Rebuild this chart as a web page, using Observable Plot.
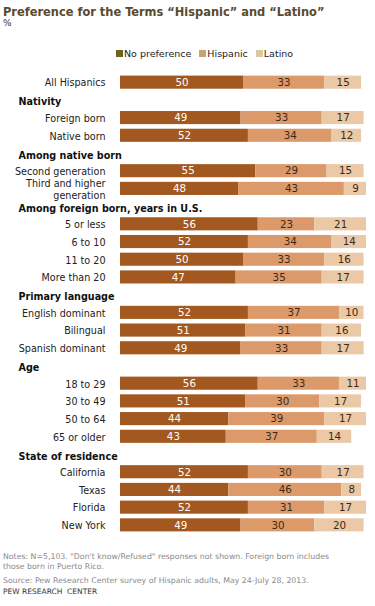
<!DOCTYPE html>
<html>
<head>
<meta charset="utf-8">
<script src="https://cdn.jsdelivr.net/npm/d3@7"></script>
<script src="https://cdn.jsdelivr.net/npm/@observablehq/plot@0.6"></script>
<style>
  body { margin: 0; background: #fff; font-family: "DejaVu Sans", Verdana, sans-serif; }
  #wrap { position: relative; width: 375px; height: 606px; overflow: hidden; }
  #title { position: absolute; left: 3px; top: 4px; font-weight: bold; font-size: 12.7px; font-stretch: condensed; font-family: "DejaVu Sans Condensed", "DejaVu Sans", sans-serif; color: #5b4a2c; white-space: nowrap; }
  #pct { position: absolute; left: 3px; top: 18px; font-size: 9px; color: #333; }
  #legend { position: absolute; left: 116px; top: 48px; font-size: 9.5px; color: #222; white-space: nowrap; }
  #legend span.sw { display: inline-block; width: 7px; height: 7px; margin-right: 1px; vertical-align: 0px; }
  #legend span.it { margin-right: 8px; }
  #chart { position: absolute; left: 0; top: 64px; }
  #notes { position: absolute; left: 3px; top: 552px; font-size: 7.8px; color: #8a8a8a; line-height: 9.5px; width: 345px; }
  #source { position: absolute; left: 3px; top: 576px; font-size: 7.8px; color: #8a8a8a; white-space: nowrap; }
  #pew { position: absolute; left: 3px; top: 587px; font-size: 7.5px; color: #333; white-space: nowrap; }
</style>
</head>
<body>
<div id="wrap">
  <div id="title">Preference for the Terms “Hispanic” and “Latino”</div>
  <div id="pct">%</div>
  <div id="legend"></div>
  <div id="chart"></div>
  <div id="notes">Notes: N=5,103. "Don't know/Refused" responses not shown. Foreign born includes those born in Puerto Rico.</div>
  <div id="source">Source: Pew Research Center survey of Hispanic adults, May 24-July 28, 2013.</div>
  <div id="pew">PEW RESEARCH&nbsp; CENTER</div>
</div>
<script>
const series = ["No preference", "Hispanic", "Latino"];
const barColors = ["#a3581f", "#dc9a6b", "#ebc8a6"];
const legendColors = ["#6e6322", "#c8a46a", "#d9c9a2"];

// rows: headings start with "#"
const rows = [
  "All Hispanics",
  "#Nativity",
  "Foreign born",
  "Native born",
  "#Among native born",
  "Second generation",
  "Third and higher\ngeneration",
  "#Among foreign born, years in U.S.",
  "5 or less",
  "6 to 10",
  "11 to 20",
  "More than 20",
  "#Primary language",
  "English dominant",
  "Bilingual",
  "Spanish dominant",
  "#Age",
  "18 to 29",
  "30 to 49",
  "50 to 64",
  "65 or older",
  "#State of residence",
  "California",
  "Texas",
  "Florida",
  "New York"
];

const noPreference = {
  "All Hispanics": 50, "Foreign born": 49, "Native born": 52,
  "Second generation": 55, "Third and higher\ngeneration": 48,
  "5 or less": 56, "6 to 10": 52, "11 to 20": 50, "More than 20": 47,
  "English dominant": 52, "Bilingual": 51, "Spanish dominant": 49,
  "18 to 29": 56, "30 to 49": 51, "50 to 64": 44, "65 or older": 43,
  "California": 52, "Texas": 44, "Florida": 52, "New York": 49
};
const hispanic = {
  "All Hispanics": 33, "Foreign born": 33, "Native born": 34,
  "Second generation": 29, "Third and higher\ngeneration": 43,
  "5 or less": 23, "6 to 10": 34, "11 to 20": 33, "More than 20": 35,
  "English dominant": 37, "Bilingual": 31, "Spanish dominant": 33,
  "18 to 29": 33, "30 to 49": 30, "50 to 64": 39, "65 or older": 37,
  "California": 30, "Texas": 46, "Florida": 31, "New York": 30
};
const latino = {
  "All Hispanics": 15, "Foreign born": 17, "Native born": 12,
  "Second generation": 15, "Third and higher\ngeneration": 9,
  "5 or less": 21, "6 to 10": 14, "11 to 20": 16, "More than 20": 17,
  "English dominant": 10, "Bilingual": 16, "Spanish dominant": 17,
  "18 to 29": 11, "30 to 49": 17, "50 to 64": 17, "65 or older": 14,
  "California": 17, "Texas": 8, "Florida": 17, "New York": 20
};

// legend
const leg = document.getElementById("legend");
series.forEach((s, i) => {
  const it = document.createElement("span");
  it.className = "it";
  it.innerHTML = `<span class="sw" style="background:${legendColors[i]}"></span>${s}`;
  leg.appendChild(it);
});

const dataRows = rows.filter(r => !r.startsWith("#"));
const headings = rows.filter(r => r.startsWith("#"));
const sources = [noPreference, hispanic, latino];
const long = [];
dataRows.forEach(r => series.forEach((s, i) => long.push({row: r, series: s, value: sources[i][r]})));

const chart = Plot.plot({
  width: 375,
  height: 480,
  marginLeft: 120,
  marginRight: 9,
  marginTop: 7,
  marginBottom: 8,
  x: {domain: [0, 100], axis: null},
  y: {domain: rows, axis: null, padding: 0.26, round: false},
  color: {domain: series, range: barColors},
  style: {fontFamily: "DejaVu Sans, Verdana, sans-serif"},
  marks: [
    Plot.barX(long, Plot.stackX({x: "value", y: "row", fill: "series", order: series})),
    Plot.text(long, Plot.stackX({x: "value", y: "row", z: "series", order: series,
      text: d => d.series === "No preference" ? d.value : "", fill: "white", fontSize: 10.3})),
    Plot.text(long, Plot.stackX({x: "value", y: "row", z: "series", order: series,
      text: d => d.series !== "No preference" ? d.value : "", fill: "#3b2a18", fontSize: 10.3})),
    Plot.text(dataRows, {y: d => d, text: d => d, frameAnchor: "left", textAnchor: "end",
      dx: -15, fontSize: 9.6, fill: "#222", lineHeight: 1.25}),
    Plot.text(headings, {y: d => d, text: d => d.slice(1), frameAnchor: "left", textAnchor: "start",
      dx: -102, dy: 2, fontSize: 9.6, fontWeight: "bold", fill: "#111"})
  ]
});
document.getElementById("chart").appendChild(chart);
</script>
</body>
</html>
